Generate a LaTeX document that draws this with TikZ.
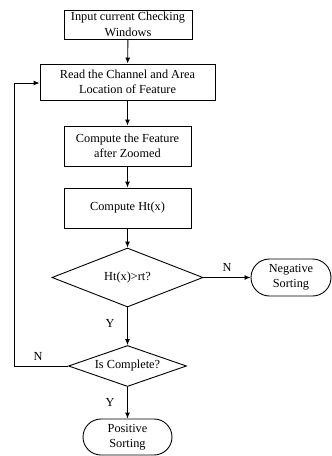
\documentclass[tikz,border=0pt]{standalone}
\usepackage{fontspec}
\setmainfont{Liberation Serif}
\usetikzlibrary{shapes.geometric,shapes.misc,arrows.meta}
\begin{document}
\begin{tikzpicture}[x=1pt,y=-1pt,
  every node/.style={font=\fontsize{12.3}{15.5}\selectfont, inner sep=0pt},
  box/.style={draw, line width=0.9pt, align=center},
  dec/.style={draw, line width=0.9pt, diamond, aspect=2.5},
  term/.style={draw, line width=0.9pt, rounded rectangle, align=center},
  arr/.style={draw, line width=0.9pt, -{Latex[length=6pt,width=5pt]}},
  lab/.style={font=\fontsize{12.3}{14}\selectfont}]
\useasboundingbox (0,0) rectangle (332,456);
\node[box, minimum width=128, minimum height=29] (b1) at (128,24.5) {Input current Checking\\Windows};
\node[box, minimum width=175, minimum height=36] (b2) at (127.5,82) {Read the Channel and Area\\Location of Feature};
\node[box, minimum width=127, minimum height=40] (b3) at (127.5,146) {Compute the Feature\\after Zoomed};
\node[box, minimum width=127, minimum height=40] (b4) at (127.5,208) {Compute Ht(x)};
\node[dec, minimum width=151, minimum height=59] (d1) at (127.5,277.5) {Ht(x)>rt?};
\node[term, minimum width=80, minimum height=37] (neg) at (291,277.5) {Negative\\Sorting};
\node[dec, minimum width=118, minimum height=41] (d2) at (127.5,366) {Is Complete?};
\node[term, minimum width=89, minimum height=36] (pos) at (127.5,437) {Positive\\Sorting};
\coordinate (c1) at (14,366);
\coordinate (c2) at (14,83);
\draw[arr] (b1) -- (b2);
\draw[arr] (b2) -- (b3);
\draw[arr] (b3) -- (b4);
\draw[arr] (b4) -- (d1);
\draw[arr] (d1) -- (neg);
\draw[arr] (d1) -- (d2);
\draw[arr] (d2) -- (pos);
\draw[arr] (d2.west) -- (c1) -- (c2) -- (b2.west|-c2);
\node[lab] (ln1) at (227,267) {N};
\node[lab] (ly1) at (110,323) {Y};
\node[lab] (ln2) at (38,356) {N};
\node[lab] (ly2) at (110,402) {Y};
\end{tikzpicture}
\end{document}
